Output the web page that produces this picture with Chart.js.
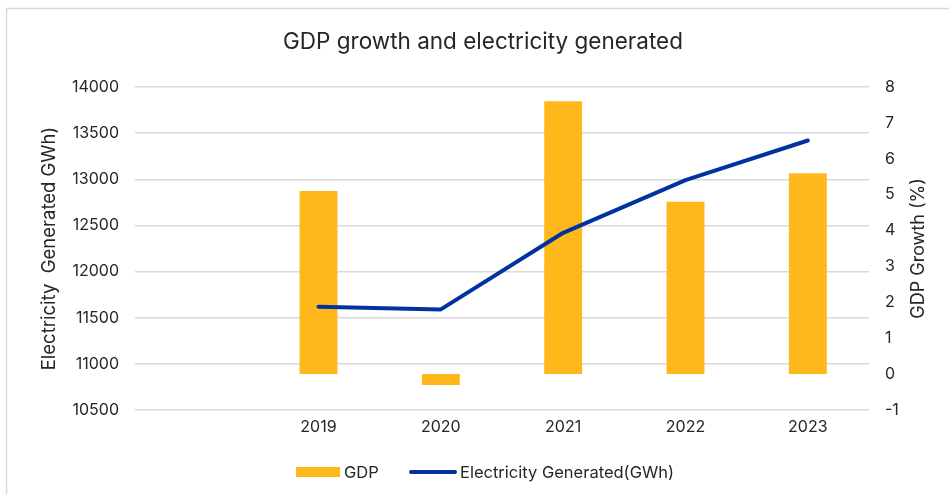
<!DOCTYPE html>
<html>
<head>
<meta charset="utf-8">
<script src="https://cdn.jsdelivr.net/npm/chart.js@4"></script>
<style>
  html, body { margin: 0; padding: 0; background: #ffffff; }
  #wrap { position: relative; width: 949px; height: 494px; }
</style>
</head>
<body>
<div id="wrap"><canvas id="chart" width="949" height="494"></canvas></div>
<script>
// Years (the first slot is left empty, as in the original workbook layout)
const years = ['', '2019', '2020', '2021', '2022', '2023'];
// GDP growth, % (right axis)
const gdpGrowth = [null, 5.1, -0.3, 7.6, 4.8, 5.6];
// Electricity generated, GWh (left axis)
const electricityGWh = [null, 11620, 11590, 12420, 12990, 13420];

const leftTicks = { min: 10500, max: 14000, step: 500 };
const rightTicks = { min: -1, max: 8, step: 1 };

const FONT = 'Inter, "Noto Sans", sans-serif';
const TEXT = '#262626';
const BAR = '#FFB81C';
const LINE = '#0033A0';
const GRID = '#d9d9d9';
const CHART_TITLE = 'GDP growth and electricity generated';
const RIGHT_TITLE = 'GDP Growth (%)';

// Frame, chart title, right-axis title (reads bottom-to-top) and legend
const decorPlugin = {
  id: 'decor',
  beforeDraw(chart) {
    const c = chart.ctx;
    c.save();
    c.strokeStyle = GRID;
    c.lineWidth = 1.5;
    c.beginPath();
    c.moveTo(6.5, chart.height);
    c.lineTo(6.5, 8.5);
    c.lineTo(chart.width, 8.5);
    c.stroke();
    c.restore();
  },
  afterDraw(chart) {
    const c = chart.ctx;
    const ds = chart.data.datasets;
    const area = chart.chartArea;

    // chart title, centred over the framed region
    c.save();
    c.font = '22.5px ' + FONT;
    c.fillStyle = TEXT;
    c.textAlign = 'center';
    c.textBaseline = 'middle';
    c.fillText(CHART_TITLE, 483, 42);
    c.restore();

    // right axis title
    c.save();
    c.translate(919, (area.top + area.bottom) / 2);
    c.rotate(-Math.PI / 2);
    c.font = '18px ' + FONT;
    c.fillStyle = TEXT;
    c.textAlign = 'center';
    c.textBaseline = 'middle';
    c.fillText(RIGHT_TITLE, 0, 0);
    c.restore();

    // legend
    const y = 472;
    c.save();
    c.font = '16.5px ' + FONT;
    c.textBaseline = 'middle';
    c.textAlign = 'left';
    c.fillStyle = ds[0].backgroundColor;
    c.fillRect(296, y - 5, 44, 10);
    c.fillStyle = TEXT;
    c.fillText(ds[0].label, 344, y + 1);
    c.strokeStyle = ds[1].borderColor;
    c.lineWidth = 4;
    c.lineCap = 'round';
    c.beginPath();
    c.moveTo(411, y);
    c.lineTo(455, y);
    c.stroke();
    c.fillText(ds[1].label, 460, y + 1);
    c.restore();
  }
};

const plain = v => String(v);

new Chart(document.getElementById('chart'), {
  data: {
    labels: years,
    datasets: [
      {
        type: 'bar',
        label: 'GDP',
        data: gdpGrowth,
        yAxisID: 'yGdp',
        backgroundColor: BAR,
        borderWidth: 0,
        barPercentage: 0.31,
        categoryPercentage: 1,
        order: 2
      },
      {
        type: 'line',
        label: 'Electricity Generated(GWh)',
        data: electricityGWh,
        yAxisID: 'yElec',
        borderColor: LINE,
        backgroundColor: LINE,
        borderWidth: 4,
        borderCapStyle: 'round',
        borderJoinStyle: 'round',
        tension: 0,
        pointRadius: 0,
        pointHoverRadius: 0,
        fill: false,
        order: 1
      }
    ]
  },
  options: {
    responsive: false,
    animation: false,
    devicePixelRatio: 1,
    layout: { padding: { left: 0, right: 0, top: 87, bottom: 44 } },
    plugins: {
      legend: { display: false },
      tooltip: { enabled: false },
      title: { display: false }
    },
    scales: {
      x: {
        offset: true,
        grid: { display: false, drawTicks: false },
        border: { display: false },
        ticks: { color: TEXT, font: { family: FONT, size: 16 }, padding: 8, maxRotation: 0 },
        afterFit(s) { s.height = 40; }
      },
      yElec: {
        position: 'left',
        min: leftTicks.min,
        max: leftTicks.max,
        ticks: { stepSize: leftTicks.step, color: TEXT, font: { family: FONT, size: 16 }, padding: 16, callback: plain },
        grid: { color: GRID, lineWidth: 1.5, drawTicks: false },
        border: { display: false },
        title: {
          display: true,
          text: 'Electricity  Generated GWh)',
          color: TEXT,
          font: { family: FONT, size: 18.5 },
          padding: { top: 38, bottom: 0 }
        },
        afterFit(s) { s.width = 135; }
      },
      yGdp: {
        position: 'right',
        min: rightTicks.min,
        max: rightTicks.max,
        ticks: { stepSize: rightTicks.step, color: TEXT, font: { family: FONT, size: 16 }, padding: 16, callback: plain },
        grid: { display: false, drawTicks: false },
        border: { display: false },
        afterFit(s) { s.width = 80; }
      }
    }
  },
  plugins: [decorPlugin]
});
</script>
</body>
</html>
